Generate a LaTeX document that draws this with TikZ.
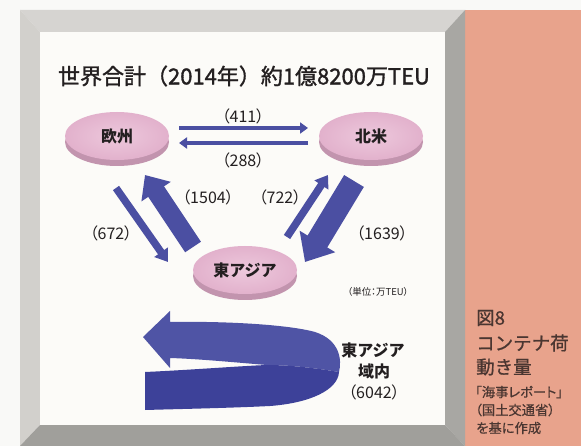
\documentclass[tikz,border=0pt]{standalone}
\usepackage{fontspec}
\setmainfont{Noto Sans CJK JP}
\newfontfamily\pfont[RawFeature=+palt]{Noto Sans CJK JP}
\newfontfamily\titlefont[FakeBold=1.4]{Noto Sans CJK JP}
\newfontfamily\sidefont[FakeBold=0.8]{Noto Sans CJK JP}
\newfontfamily\sidesmall[FakeBold=0.6,RawFeature=+palt]{Noto Sans CJK JP}
\usetikzlibrary{arrows.meta,shapes.geometric,shadows}
\definecolor{bgwhite}{HTML}{F9F9F7}
\definecolor{panelwhite}{HTML}{FCFBF8}
\definecolor{frametop}{HTML}{D6D4D1}
\definecolor{frameleft}{HTML}{D2D0CC}
\definecolor{frameright}{HTML}{A8A7A3}
\definecolor{framebottom}{HTML}{A09F9B}
\definecolor{salmon}{HTML}{E8A38C}
\definecolor{arrowblue}{HTML}{4B4FA2}
\definecolor{ribbonlight}{HTML}{4F54A5}
\definecolor{ribbondark}{HTML}{3D4199}
\definecolor{disktop}{HTML}{E2B1CC}
\definecolor{diskin}{HTML}{EDC8DC}
\definecolor{diskside}{HTML}{C294AE}
\definecolor{inktext}{HTML}{231F20}
\definecolor{paneltext}{HTML}{4A3631}
\begin{document}
\begin{tikzpicture}[x=1pt,y=-1pt,
  disk/.style={ellipse, minimum width=104pt, minimum height=48pt, inner sep=0pt,
    inner color=diskin, outer color=disktop, text=inktext,
    font=\bfseries\fontsize{16}{16}\selectfont,
    drop shadow={shadow xshift=0pt, shadow yshift=-6pt, fill=diskside, opacity=1}},
  numlab/.style={inner sep=0pt, text=inktext, font=\pfont\fontsize{16}{16}\selectfont},
  harrow/.style={draw=arrowblue, line width=3.8pt, -{Triangle[length=8pt,width=11pt]}},
  thinarrow/.style={draw=arrowblue, line width=7.5pt, -{Triangle[length=12pt,width=16pt]}},
  midarrow/.style={draw=arrowblue, line width=19pt, -{Triangle[length=20pt,width=34pt]}},
  bigarrow/.style={draw=arrowblue, line width=23pt, -{Triangle[length=24pt,width=40pt]}},
  paneltxt/.style={inner sep=0pt, anchor=west, text=paneltext, font=\sidefont\fontsize{18.5}{18.5}\selectfont},
  panelsmall/.style={inner sep=0pt, anchor=west, text=paneltext, font=\sidesmall\fontsize{13.3}{13.3}\selectfont}
]
\useasboundingbox (0,0) rectangle (581,446);
% background and frame
\fill[bgwhite] (0,0) rectangle (581,446);
\fill[salmon] (465,10) rectangle (581,446);
\fill[frametop] (20,10) -- (465,10) -- (445,32) -- (40,32) -- cycle;
\fill[frameleft] (20,10) -- (40,32) -- (40,425) -- (20,446) -- cycle;
\fill[frameright] (465,10) -- (465,446) -- (445,425) -- (445,32) -- cycle;
\fill[framebottom] (20,446) -- (40,425) -- (445,425) -- (465,446) -- cycle;
\fill[panelwhite] (40,32) rectangle (445,425);

% title
\node[inner sep=0pt, text=inktext, font=\titlefont\fontsize{22}{22}\selectfont] (title) at (244,76) {世界合計（2014年）約1億8200万TEU};

% regions
\node[disk] (eu) at (117,136) {欧州};
\node[disk] (na) at (371,136) {北米};
\node[disk] (ea) at (245,270) {東アジア};

% horizontal arrows
\coordinate (h1s) at (179,128); \coordinate (h1e) at (308,128);
\coordinate (h2s) at (308,143); \coordinate (h2e) at (179,143);
\draw[harrow] (h1s) -- (h1e);
\draw[harrow] (h2s) -- (h2e);

% diagonal arrows
\coordinate (d672s) at (116,188); \coordinate (d672e) at (168,262);
\coordinate (d1504s) at (193,247); \coordinate (d1504e) at (145,175);
\coordinate (d722s) at (287,237); \coordinate (d722e) at (328,175);
\coordinate (d1639s) at (354,181); \coordinate (d1639e) at (305,262);
\draw[thinarrow] (d672s) -- (d672e);
\draw[midarrow] (d1504s) -- (d1504e);
\draw[thinarrow] (d722s) -- (d722e);
\draw[bigarrow] (d1639s) -- (d1639e);

% labels
\node[numlab] (l411) at (243,116) {（411）};
\node[numlab] (l288) at (243,160) {（288）};
\node[numlab] (l1504) at (208,197) {（1504）};
\node[numlab] (l722) at (280,197) {（722）};
\node[numlab] (l672) at (111,233) {（672）};
\node[numlab] (l1639) at (382,233) {（1639）};
\node[inner sep=0pt, text=inktext, font=\pfont\fontsize{9.5}{9.5}\selectfont] (unit) at (378,292) {（単位：万TEU）};

% intra-East-Asia ribbon arrow
\fill[ribbonlight] (143,337) -- (170,311) -- (170,322)
  .. controls (230,321) and (290,325) .. (315,332)
  .. controls (340,340) and (342,360) .. (339,372)
  .. controls (315,368) and (290,365) .. (267,365)
  .. controls (230,362) and (200,359) .. (170,358)
  -- (170,368) -- cycle;
\fill[ribbondark] (145,372)
  .. controls (190,370) and (240,366) .. (267,365)
  .. controls (290,365) and (315,368) .. (339,372)
  .. controls (338,390) and (310,403) .. (270,406)
  .. controls (230,408) and (180,409) .. (145,410) -- cycle;
\node[inner sep=0pt, text=inktext, font=\bfseries\fontsize{16}{16}\selectfont] (ia1) at (373,350) {東アジア};
\node[inner sep=0pt, text=inktext, font=\bfseries\fontsize{16}{16}\selectfont] (ia2) at (374,371) {域内};
\node[numlab] (ia3) at (374,392) {（6042）};

% side panel
\node[paneltxt] (p1) at (476,318) {図8};
\node[paneltxt] (p2) at (476,343) {コンテナ荷};
\node[paneltxt] (p3) at (476,367) {動き量};
\node[panelsmall] (p4) at (475,392) {「海事レポート」};
\node[panelsmall] (p5) at (475,410) {（国土交通省）};
\node[panelsmall] (p6) at (476,428) {を基に作成};
\end{tikzpicture}
\end{document}
